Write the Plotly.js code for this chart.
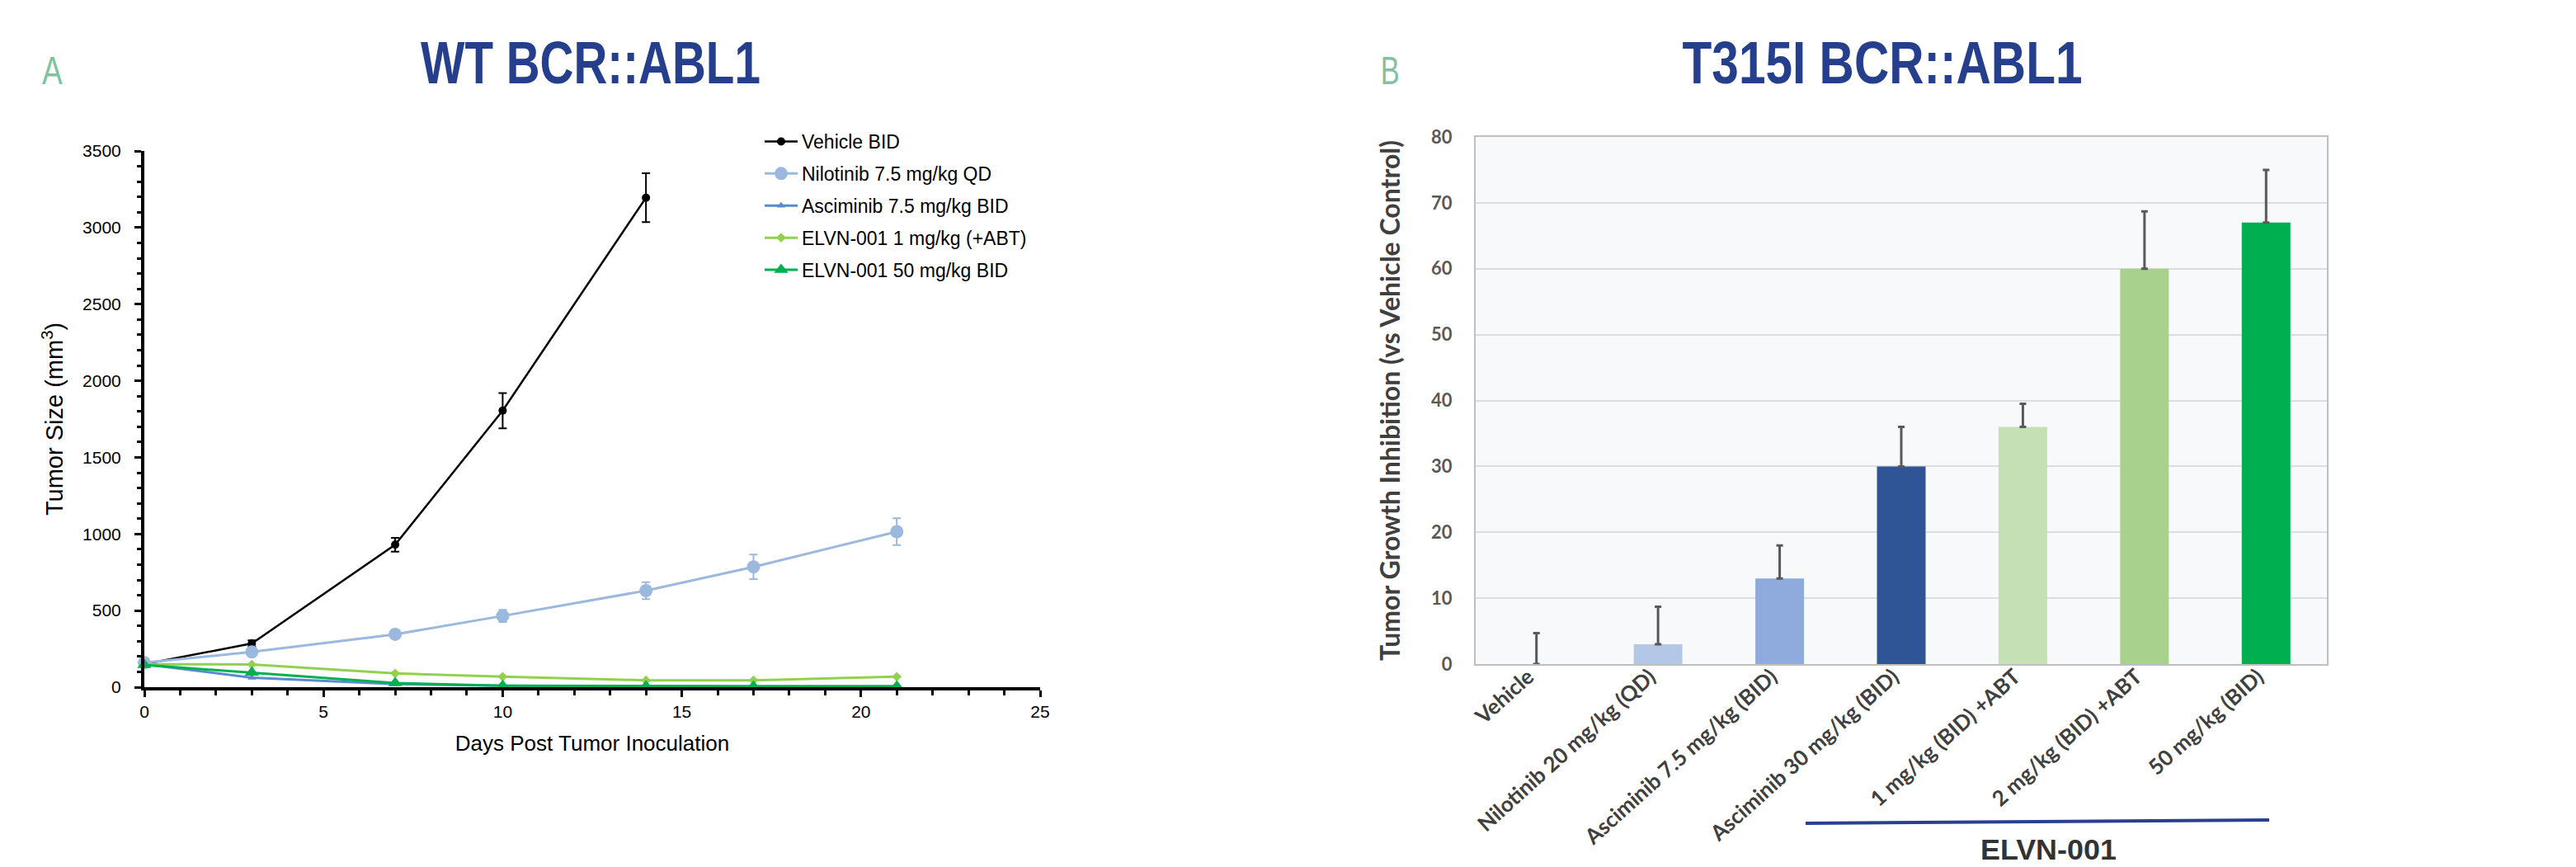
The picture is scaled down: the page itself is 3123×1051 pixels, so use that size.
<!DOCTYPE html>
<html>
<head>
<meta charset="utf-8">
<script src="https://cdn.plot.ly/plotly-3.0.1.min.js"></script>
<style>
html,body{margin:0;padding:0;background:#ffffff;}
#chart{width:3123px;height:1051px;}
</style>
</head>
<body>
<div id="chart"></div>
<script>
// ---------- Panel A data: tumor size over time ----------
const daysVehicle = [0, 3, 7, 10, 14];
const vehicleBID = [150, 285, 930, 1805, 3195];
const vehicleErr = [10, 20, 45, 115, 160];

const daysTreated = [0, 3, 7, 10, 14, 17, 21];
const nilotinib75QD = [160, 230, 345, 465, 630, 785, 1015];
const nilotinibErr = [15, 20, 25, 40, 55, 80, 88];
const asciminib75BID = [150, 62, 20, 10, 5, 5, 5];
const elvn1ABT = [150, 148, 90, 68, 45, 45, 68];
const elvn50BID = [145, 95, 27, 10, 5, 5, 5];

const seriesNames = ['Vehicle BID', 'Nilotinib 7.5 mg/kg QD', 'Asciminib 7.5 mg/kg BID',
                     'ELVN-001 1 mg/kg (+ABT)', 'ELVN-001 50 mg/kg BID'];

// ---------- Panel B data: tumor growth inhibition ----------
const tgiCategories = ['Vehicle', 'Nilotinib 20 mg/kg (QD)', 'Asciminib 7.5 mg/kg (BID)',
                       'Asciminib 30 mg/kg (BID)', '1 mg/kg (BID) +ABT', '2 mg/kg (BID) +ABT',
                       '50 mg/kg (BID)'];
const tgiValues = [0, 3, 13, 30, 36, 60, 67];
const tgiErrors = [4.7, 5.7, 5, 6, 3.5, 8.7, 8];
const tgiZero = [0, 0, 0, 0, 0, 0, 0];
const barColors = ['#b4c7e7', '#b4c7e7', '#8faadc', '#2f5597', '#c5e0b4', '#a9d18e', '#00b050'];

const W = 3123, H = 1051;
const px = v => v / W;
const py = v => 1 - v / H;

const arial = 'Liberation Sans, Arial, sans-serif';
const lato = 'Lato, Open Sans, sans-serif';
const condensed = 'Liberation Sans Narrow, Liberation Sans, Arial, sans-serif';

function lineTrace(x, y, err, name, color, symbol, msize, lw) {
  const t = {
    type: 'scatter', mode: 'lines+markers', x: x, y: y, name: name,
    xaxis: 'x', yaxis: 'y', cliponaxis: false,
    line: {color: color, width: lw},
    marker: {color: color, symbol: symbol, size: msize},
    legendgroup: name
  };
  if (err) t.error_y = {type: 'data', array: err, visible: true, color: color, thickness: 2, width: 5};
  return t;
}

const traces = [
  lineTrace(daysVehicle, vehicleBID, vehicleErr, seriesNames[0], '#000000', 'circle', 10, 2.5),
  lineTrace(daysTreated, nilotinib75QD, nilotinibErr, seriesNames[1], '#9bb9df', 'circle', 16, 3),
  lineTrace(daysTreated, asciminib75BID, null, seriesNames[2], '#5a8ad0', 'triangle-up', 9, 3),
  lineTrace(daysTreated, elvn1ABT, null, seriesNames[3], '#92d050', 'diamond', 9, 3),
  lineTrace(daysTreated, elvn50BID, null, seriesNames[4], '#00b050', 'triangle-up', 15, 3),
  {
    type: 'bar', x: tgiCategories, y: tgiValues, xaxis: 'x2', yaxis: 'y2', showlegend: false,
    marker: {color: barColors, line: {width: 0}},
    error_y: {type: 'data', array: tgiErrors, arrayminus: tgiZero, symmetric: false,
              visible: true, color: '#595959', thickness: 3, width: 4}
  }
];

const layout = {
  width: W, height: H,
  margin: {l: 0, r: 0, t: 0, b: 0},
  paper_bgcolor: '#ffffff', plot_bgcolor: 'rgba(0,0,0,0)',
  font: {family: arial, color: '#000000'},
  bargap: 0.6,
  showlegend: true,
  legend: {
    x: px(922), y: py(150), xanchor: 'left', yanchor: 'top',
    font: {family: arial, size: 23, color: '#000000'},
    bgcolor: 'rgba(0,0,0,0)', itemwidth: 40, tracegroupgap: 6, traceorder: 'grouped'
  },
  xaxis: {
    domain: [px(175), px(1261)], range: [0, 25], dtick: 5, anchor: 'y',
    showline: true, linecolor: '#000000', linewidth: 4, showgrid: false, zeroline: false,
    ticks: 'outside', ticklen: 8, tickwidth: 3, tickcolor: '#000000',
    minor: {dtick: 1, ticks: 'outside', ticklen: 6, tickwidth: 3, tickcolor: '#000000', showgrid: false},
    tickfont: {family: arial, size: 21, color: '#000000'},
    title: {text: 'Days Post Tumor Inoculation', font: {family: arial, size: 26, color: '#000000'}, standoff: 20}
  },
  yaxis: {
    domain: [py(833), py(183)], range: [0, 3500], dtick: 500, anchor: 'x',
    showline: true, linecolor: '#000000', linewidth: 4, showgrid: false, zeroline: false,
    ticks: 'outside', ticklen: 8, tickwidth: 3, tickcolor: '#000000',
    minor: {dtick: 100, ticks: 'outside', ticklen: 5, tickwidth: 3, tickcolor: '#000000', showgrid: false},
    tickfont: {family: arial, size: 21, color: '#000000'}, ticklabelstandoff: 12,
    title: {text: 'Tumor Size (mm<sup>3</sup>)', font: {family: arial, size: 29, color: '#000000'}, standoff: 16}
  },
  xaxis2: {
    domain: [px(1789), px(2821)], anchor: 'y2', type: 'category',
    showline: true, mirror: true, linecolor: '#bfbfbf', linewidth: 2,
    showgrid: false, zeroline: false, ticks: '', tickangle: -42,
    ticklabelstandoff: -12, ticklabelshift: -10,
    tickfont: {family: lato, size: 26, color: '#404040', weight: 'bold'}
  },
  yaxis2: {
    domain: [py(805), py(166)], anchor: 'x2', range: [0, 80], dtick: 10,
    showline: true, mirror: true, linecolor: '#bfbfbf', linewidth: 2,
    showgrid: true, gridcolor: '#dcdde0', gridwidth: 2, zeroline: false, ticks: '',
    tickfont: {family: lato, size: 22, color: '#595959', weight: 'bold'}, ticklabelstandoff: 22,
    title: {text: 'Tumor Growth Inhibition (vs Vehicle Control)',
            font: {family: lato, size: 32, color: '#404040', weight: 'bold'}, standoff: 28}
  },
  shapes: [
    {type: 'rect', xref: 'x2 domain', yref: 'y2 domain', x0: 0, x1: 1, y0: 0, y1: 1,
     fillcolor: '#f8f9fb', line: {width: 0}, layer: 'below'},
    {type: 'line', xref: 'paper', yref: 'paper', x0: px(2189), y0: py(998), x1: px(2751), y1: py(994),
     line: {color: '#2a3f8f', width: 4}}
  ],
  annotations: [
    {text: 'WT BCR::ABL1', xref: 'paper', yref: 'paper', x: px(716), y: py(76), xanchor: 'center', yanchor: 'middle',
     showarrow: false, font: {family: condensed, size: 72, color: '#263f8c', weight: 'bold'}},
    {text: 'T315I BCR::ABL1', xref: 'paper', yref: 'paper', x: px(2282), y: py(76), xanchor: 'center', yanchor: 'middle',
     showarrow: false, font: {family: condensed, size: 72, color: '#263f8c', weight: 'bold'}},
    {text: 'A', xref: 'paper', yref: 'paper', x: px(64), y: py(85), xanchor: 'center', yanchor: 'middle',
     showarrow: false, font: {family: condensed, size: 49, color: '#84c1a1'}},
    {text: 'B', xref: 'paper', yref: 'paper', x: px(1686), y: py(85), xanchor: 'center', yanchor: 'middle',
     showarrow: false, font: {family: condensed, size: 49, color: '#84c1a1'}},
    {text: 'ELVN-001', xref: 'paper', yref: 'paper', x: px(2483), y: 0, xanchor: 'center', yanchor: 'bottom',
     showarrow: false, font: {family: condensed, size: 35, color: '#333333', weight: 'bold'}}
  ]
};

// target printed widths for the condensed display lettering
const condensedWidths = {'WT BCR::ABL1': 412, 'T315I BCR::ABL1': 485, 'A': 25, 'B': 23, 'ELVN-001': 165};

Plotly.newPlot('chart', traces, layout, {displayModeBar: false, staticPlot: true}).then(function () {
  document.querySelectorAll('text.annotation-text').forEach(function (t) {
    const target = condensedWidths[t.textContent];
    if (!target) return;
    const bb = t.getBBox();
    if (bb.width > 0) {
      t.style.transformBox = 'fill-box';
      t.style.transformOrigin = 'center';
      t.style.transform = 'scaleX(' + (target / bb.width).toFixed(4) + ')';
    }
  });
});
</script>
</body>
</html>
